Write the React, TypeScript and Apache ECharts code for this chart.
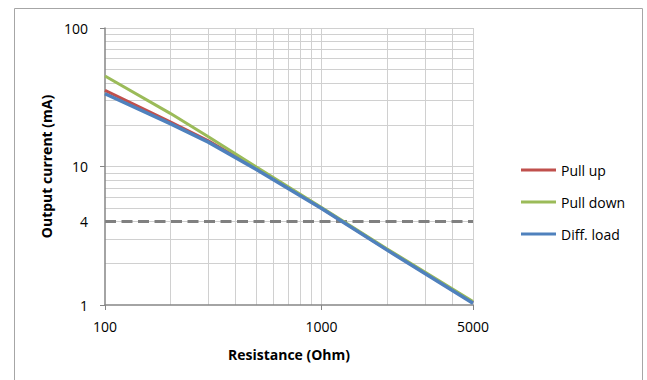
import React, { useEffect, useRef } from "react";
import * as echarts from "echarts";

const resistance = [100, 200, 300, 500, 1000, 2000, 5000];
const pullUp = [35.5, 21.0, 15.3, 9.7, 5.0, 2.52, 1.04];
const pullDown = [45.0, 24.2, 16.4, 9.9, 5.05, 2.55, 1.06];
const diffLoad = [33.5, 20.4, 15.0, 9.5, 4.97, 2.5, 1.03];
const limitValue = 4;

const xTickLabels = [100, 1000, 5000];
const yTickLabels = [1, 4, 10, 100];
const xMajorTicks = [100, 1000, 5000];
const yMajorTicks = [1, 10, 100];
const xGridValues = [200, 300, 400, 500, 600, 700, 800, 900, 1000, 2000, 3000, 4000, 5000];
const yGridValues = [2, 3, 4, 5, 6, 7, 8, 9, 10, 20, 30, 40, 50, 60, 70, 80, 90, 100];

const FONT = "Open Sans";

export default function App() {
  const ref = useRef<HTMLDivElement>(null);
  useEffect(() => {
    if (!ref.current) return;
    const chart = echarts.init(ref.current, null, { renderer: "svg" });
    const pair = (ys: number[]) => resistance.map((x, i) => [x, ys[i]]);
    const fmt = (v: number) => String(+Number(v).toPrecision(6));
    chart.setOption({
      animation: false,
      backgroundColor: "#ffffff",
      grid: { left: 105, right: 174, top: 28, bottom: 75 },
      graphic: [
        {
          type: "rect",
          shape: { x: 14.5, y: 8.5, width: 628, height: 400 },
          style: { fill: "none", stroke: "#a6a6a6", lineWidth: 1 },
          silent: true,
        },
      ],
      legend: {
        orient: "vertical",
        left: 516,
        top: 158,
        itemWidth: 35,
        itemHeight: 3,
        itemGap: 18,
        icon: "rect",
        data: ["Pull up", "Pull down", "Diff. load"],
        textStyle: { fontFamily: FONT, fontSize: 14, color: "#000", lineHeight: 14 },
      },
      xAxis: [
        {
          type: "log",
          logBase: 10,
          min: 100,
          max: 5000,
          position: "bottom",
          name: "Resistance (Ohm)",
          nameLocation: "middle",
          nameGap: 42,
          nameTextStyle: { fontFamily: FONT, fontSize: 14, fontWeight: "bold", color: "#000" },
          axisLine: { show: true, lineStyle: { color: "#868686", width: 1.5 } },
          axisTick: { show: true, length: 5, customValues: xMajorTicks, lineStyle: { color: "#868686" } },
          axisLabel: {
            customValues: xTickLabels,
            margin: 14,
            fontFamily: FONT,
            fontSize: 14,
            color: "#000",
            formatter: fmt,
          },
          splitLine: { show: false },
          z: 3,
        },
        {
          type: "log",
          logBase: 10,
          min: 100,
          max: 5000,
          position: "bottom",
          axisLine: { show: false },
          axisTick: { show: false, customValues: xGridValues },
          axisLabel: { show: false },
          splitLine: { show: true, lineStyle: { color: "#d0d0d0", width: 1 } },
          z: 0,
        },
      ],
      yAxis: [
        {
          type: "log",
          logBase: 10,
          min: 1,
          max: 100,
          position: "left",
          name: "Output current (mA)",
          nameLocation: "middle",
          nameRotate: 90,
          nameGap: 49,
          nameTextStyle: { fontFamily: FONT, fontSize: 14, fontWeight: "bold", color: "#000" },
          axisLine: { show: true, lineStyle: { color: "#868686", width: 1.5 } },
          axisTick: { show: true, length: 5, customValues: yMajorTicks, lineStyle: { color: "#868686" } },
          axisLabel: {
            customValues: yTickLabels,
            margin: 17,
            fontFamily: FONT,
            fontSize: 14,
            color: "#000",
            formatter: fmt,
          },
          splitLine: { show: false },
          z: 3,
        },
        {
          type: "log",
          logBase: 10,
          min: 1,
          max: 100,
          position: "left",
          axisLine: { show: false },
          axisTick: { show: false, customValues: yGridValues },
          axisLabel: { show: false },
          splitLine: { show: true, lineStyle: { color: "#d0d0d0", width: 1 } },
          z: 0,
        },
      ],
      series: [
        {
          name: "4 mA limit",
          type: "line",
          data: [
            [resistance[0], limitValue],
            [resistance[resistance.length - 1], limitValue],
          ],
          symbol: "none",
          lineStyle: { color: "#808080", width: 3, type: [11, 5.5] },
          itemStyle: { color: "#808080" },
          z: 2,
        },
        {
          name: "Pull up",
          type: "line",
          data: pair(pullUp),
          symbol: "none",
          lineStyle: { color: "#C0504D", width: 3 },
          itemStyle: { color: "#C0504D" },
          z: 3,
        },
        {
          name: "Pull down",
          type: "line",
          data: pair(pullDown),
          symbol: "none",
          lineStyle: { color: "#9BBB59", width: 3 },
          itemStyle: { color: "#9BBB59" },
          z: 4,
        },
        {
          name: "Diff. load",
          type: "line",
          data: pair(diffLoad),
          symbol: "none",
          lineStyle: { color: "#4F81BD", width: 3.5 },
          itemStyle: { color: "#4F81BD" },
          z: 5,
        },
      ],
    });
    return () => chart.dispose();
  }, []);
  return (
    <div
      ref={ref}
      style={{ position: "absolute", left: 0, top: 0, width: 647, height: 380 }}
    />
  );
}
